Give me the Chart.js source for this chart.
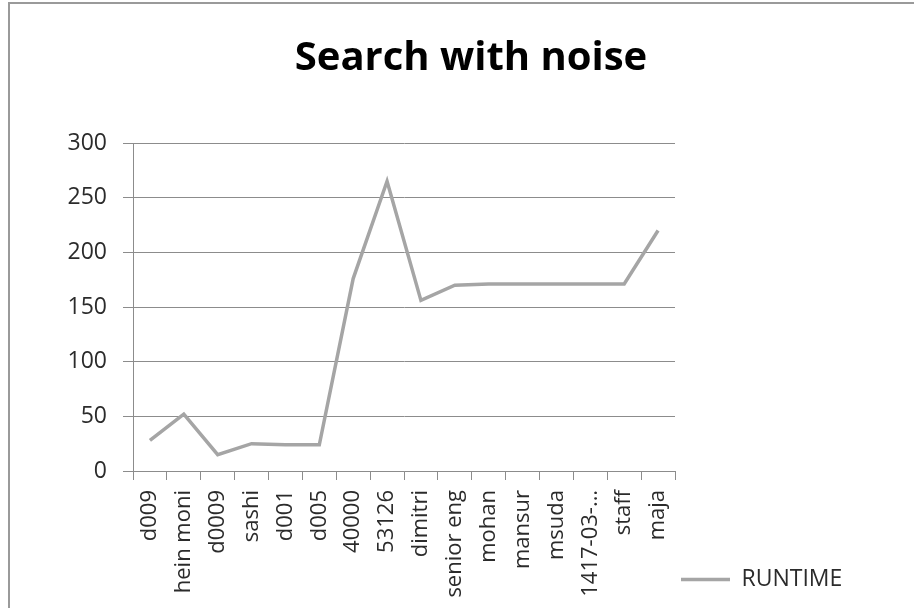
<!DOCTYPE html>
<html>
<head>
<meta charset="utf-8">
<title>Search with noise</title>
<script src="https://cdn.jsdelivr.net/npm/chart.js@4.4.1/dist/chart.umd.min.js"></script>
<style>
  html, body { margin: 0; padding: 0; background: #ffffff; overflow: hidden; }
  #wrap { position: relative; width: 914px; height: 608px; }
  #frame {
    position: absolute; left: 8px; top: 2px; width: 1000px; height: 1000px;
    border: 2px solid #9a9a9a; box-sizing: border-box; pointer-events: none;
  }
  canvas { display: block; }
</style>
</head>
<body>
<div id="wrap">
  <canvas id="chart" width="914" height="608"></canvas>
  <div id="frame"></div>
</div>
<script>
// Query names along the x axis
const categories = [
  'd009', 'hein moni', 'd0009', 'sashi', 'd001', 'd005', '40000', '53126',
  'dimitri', 'senior eng', 'mohan', 'mansur', 'msuda', '1417-03-…', 'staff', 'maja'
];

// Runtime measured for each query
const runtime = [28, 52, 15, 25, 24, 24, 176, 265, 156, 170, 171, 171, 171, 171, 171, 220];

// Value axis ticks
const yTicks = [0, 50, 100, 150, 200, 250, 300];

const seriesName = 'RUNTIME';
const chartTitle = 'Search with noise';

const FONT = "'Open Sans', 'Liberation Sans', sans-serif";
const GRID = '#8c8c8c';
const LINE = '#a5a5a5';
const TEXT = '#2b2b2b';

// The legend sits in the lower right corner, beside the rotated category labels.
const legendCorner = {
  id: 'legendCorner',
  afterLayout(chart) {
    const lg = chart.legend;
    if (!lg) return;
    const w = lg.width, h = lg.height;
    lg.left = 671;
    lg.top = 558;
    lg.right = lg.left + w;
    lg.bottom = lg.top + h;
  }
};

new Chart(document.getElementById('chart'), {
  type: 'line',
  data: {
    labels: categories,
    datasets: [{
      label: seriesName,
      data: runtime,
      borderColor: LINE,
      backgroundColor: LINE,
      borderWidth: 3.5,
      pointRadius: 0,
      pointHoverRadius: 0,
      tension: 0,
      fill: false,
      yAxisID: 'y'
    }]
  },
  plugins: [legendCorner],
  options: {
    responsive: false,
    animation: false,
    events: [],
    layout: { padding: { left: 60, right: 32, top: 0, bottom: 7 } },
    plugins: {
      tooltip: { enabled: false },
      title: {
        display: true,
        text: chartTitle,
        color: '#000000',
        font: { family: FONT, size: 40, weight: 'bold' },
        padding: { top: 35, bottom: 60 }
      },
      legend: {
        display: true,
        position: 'chartArea',
        align: 'start',
        labels: {
          color: TEXT,
          font: { family: FONT, size: 23 },
          usePointStyle: true,
          pointStyle: 'line',
          pointStyleWidth: 49,
          padding: 10
        }
      }
    },
    scales: {
      x: {
        type: 'category',
        offset: true,
        grid: {
          offset: true,
          drawOnChartArea: false,
          drawTicks: true,
          tickLength: 9,
          color: GRID,
          lineWidth: 1
        },
        border: { display: true, color: GRID, width: 1 },
        ticks: {
          autoSkip: false,
          minRotation: 90,
          maxRotation: 90,
          padding: 10,
          color: TEXT,
          font: { family: FONT, size: 22 }
        },
        afterFit: (scale) => { scale.height = 130; }
      },
      y: {
        type: 'linear',
        position: 'left',
        min: 0,
        max: 300,
        afterBuildTicks: (scale) => { scale.ticks = yTicks.map(v => ({ value: v })); },
        grid: {
          drawTicks: true,
          tickLength: 10,
          color: GRID,
          lineWidth: 1
        },
        border: { display: true, color: GRID, width: 1 },
        ticks: {
          padding: 16,
          color: TEXT,
          font: { family: FONT, size: 23 }
        },
        afterFit: (scale) => { scale.width = 73; }
      },
      // blank spacer on the right that keeps room beside the plot
      spacer: {
        type: 'linear',
        position: 'right',
        display: true,
        grid: { display: false, drawTicks: false },
        border: { display: false },
        ticks: { display: false },
        afterFit: (scale) => { scale.width = 207; }
      }
    }
  }
});
</script>
</body>
</html>
